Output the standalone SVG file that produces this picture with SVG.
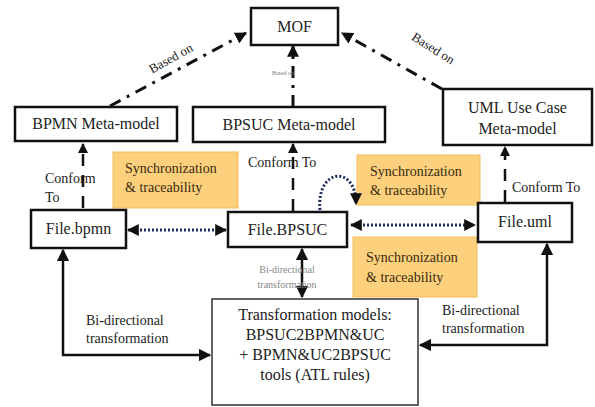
<svg xmlns="http://www.w3.org/2000/svg" width="595" height="407" viewBox="0 0 595 407">
  <defs>
    <marker id="arr" viewBox="0 0 10 10" refX="9" refY="5" markerWidth="4" markerHeight="4" orient="auto-start-reverse" markerUnits="strokeWidth">
      <path d="M0,0 L10,5 L0,10 z" fill="#111"/>
    </marker>
    <marker id="arrS" viewBox="0 0 10 10" refX="9" refY="5" markerWidth="5" markerHeight="5" orient="auto-start-reverse" markerUnits="strokeWidth">
      <path d="M0,0 L10,5 L0,10 z" fill="#111"/>
    </marker>
    <marker id="arrN" viewBox="0 0 10 10" refX="9" refY="5" markerWidth="4" markerHeight="4" orient="auto-start-reverse" markerUnits="strokeWidth">
      <path d="M0,0 L10,5 L0,10 z" fill="#111"/>
    </marker>
    <style>
      .box { fill: #fff; stroke: #111; stroke-width: 2.5; }
      .tbox { fill: #fff; stroke: #333; stroke-width: 1.5; }
      .sync { fill: #fcd07c; stroke: #f3bd58; stroke-width: 1; }
      text { font-family: 'Liberation Serif', 'Times New Roman', 'DejaVu Serif', serif; fill: #222; }
      .n16 { font-size: 16px; }
      .n14 { font-size: 14px; }
      .s14 { font-size: 14px; fill: #3a2a10; }
      .small { font-size: 10px; fill: #888; }
      .tiny { font-size: 6px; fill: #777; }
      .based { fill: none; stroke: #111; stroke-width: 3; stroke-dasharray: 12 7 3 7; }
      .conf { fill: none; stroke: #111; stroke-width: 2.5; stroke-dasharray: 12 9; }
      .sync-link { fill: none; stroke: #1e2a5a; stroke-width: 3; stroke-dasharray: 2 2; }
      .solid { fill: none; stroke: #111; stroke-width: 2.5; }
    </style>
  </defs>

  <!-- highlighted annotation boxes -->
  <g id="sync1">
    <rect class="sync" x="113" y="152" width="125" height="56"/>
    <text class="s14" x="125" y="173">Synchronization</text>
    <text class="s14" x="125" y="192">&amp; traceability</text>
  </g>
  <g id="sync2">
    <rect class="sync" x="357" y="155" width="123" height="50"/>
    <text class="s14" x="370" y="176">Synchronization</text>
    <text class="s14" x="370" y="195">&amp; traceability</text>
  </g>
  <g id="sync3">
    <rect class="sync" x="353" y="237" width="124" height="60"/>
    <text class="s14" x="366" y="262">Synchronization</text>
    <text class="s14" x="366" y="282">&amp; traceability</text>
  </g>

  <!-- connectors -->
  <g id="connectors">
    <!-- Based on -->
    <path class="based" d="M110,106 L246,33" marker-end="url(#arr)"/>
    <path class="based" d="M442,89 L342,33" marker-end="url(#arr)"/>
    <path class="based" d="M293,107 L293,46" marker-end="url(#arr)"/>
    <text font-size="13" transform="translate(173,62) rotate(-29)" text-anchor="middle">Based on</text>
    <text font-size="13" transform="translate(431,52) rotate(32)" text-anchor="middle">Based on</text>
    <text class="tiny" x="283" y="75" text-anchor="middle">Based on</text>

    <!-- Conform To -->
    <path class="conf" d="M83,208 L83,144" marker-end="url(#arr)"/>
    <path class="conf" d="M293,211 L293,144" marker-end="url(#arr)"/>
    <path class="conf" d="M505,202 L505,147" marker-end="url(#arr)"/>
    <text class="n14" x="45" y="183">Conform</text>
    <text class="n14" x="45" y="202">To</text>
    <text class="n14" x="248" y="167">Conform To</text>
    <text class="n14" x="512" y="192">Conform To</text>

    <!-- synchronization links -->
    <path class="sync-link" d="M128,230 L226,230" marker-start="url(#arrN)" marker-end="url(#arrN)"/>
    <path class="sync-link" d="M351,225 L475,225" marker-start="url(#arrN)" marker-end="url(#arrN)"/>
    <path class="sync-link" d="M320,210 C316,168 356,164 356,204" marker-end="url(#arrN)"/>

    <!-- bi-directional transformations -->
    <path class="solid" d="M302,249 L302,297" marker-start="url(#arrS)" marker-end="url(#arrS)"/>
    <text class="small" x="287" y="273" text-anchor="middle">Bi-directional</text>
    <text class="small" x="287" y="288" text-anchor="middle">transformation</text>

    <path class="solid" d="M63,250 L63,355 L210,355" marker-start="url(#arrS)" marker-end="url(#arrS)"/>
    <text class="n14" x="86" y="325">Bi-directional</text>
    <text class="n14" x="86" y="343">transformation</text>

    <path class="solid" d="M547,244 L547,345 L420,345" marker-start="url(#arrS)" marker-end="url(#arrS)"/>
    <text class="n14" x="442" y="315">Bi-directional</text>
    <text class="n14" x="442" y="333">transformation</text>
  </g>

  <!-- nodes -->
  <g id="mof">
    <rect class="box" x="251" y="8" width="87" height="37"/>
    <text class="n16" x="294.5" y="32" text-anchor="middle">MOF</text>
  </g>
  <g id="bpmn-meta">
    <rect class="box" x="15" y="107" width="162" height="34"/>
    <text class="n16" x="96" y="129" text-anchor="middle">BPMN Meta-model</text>
  </g>
  <g id="bpsuc-meta">
    <rect class="box" x="193" y="107" width="192" height="35"/>
    <text class="n16" x="289" y="130" text-anchor="middle">BPSUC Meta-model</text>
  </g>
  <g id="uml-meta">
    <rect class="box" x="443" y="89" width="149" height="56"/>
    <text class="n16" x="517.5" y="113" text-anchor="middle">UML Use Case</text>
    <text class="n16" x="517.5" y="134" text-anchor="middle">Meta-model</text>
  </g>
  <g id="file-bpmn">
    <rect class="box" x="31" y="210" width="95" height="38"/>
    <text class="n16" x="78.5" y="234" text-anchor="middle">File.bpmn</text>
  </g>
  <g id="file-bpsuc">
    <rect class="box" x="228" y="212" width="119" height="35"/>
    <text class="n16" x="287.5" y="235" text-anchor="middle">File.BPSUC</text>
  </g>
  <g id="file-uml">
    <rect class="box" x="478" y="203" width="94" height="39"/>
    <text class="n16" x="525" y="227" text-anchor="middle">File.uml</text>
  </g>
  <g id="transformation">
    <rect class="tbox" x="212" y="299" width="206" height="106"/>
    <text class="n16" x="315" y="320" text-anchor="middle">Transformation models:</text>
    <text class="n16" x="315" y="340" text-anchor="middle">BPSUC2BPMN&amp;UC</text>
    <text class="n16" x="315" y="360" text-anchor="middle">+ BPMN&amp;UC2BPSUC</text>
    <text class="n16" x="315" y="380" text-anchor="middle">tools (ATL rules)</text>
  </g>
</svg>
